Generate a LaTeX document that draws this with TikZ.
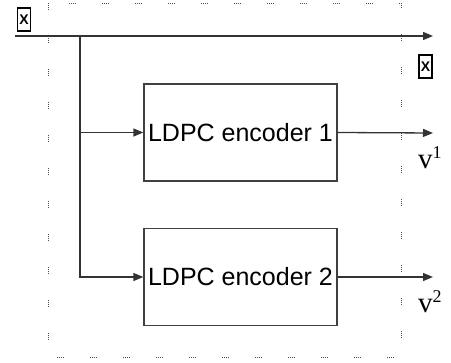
\documentclass[tikz,border=0pt]{standalone}
\usepackage{fontspec}
\newfontfamily\boxfont{Liberation Sans}
\newfontfamily\lblfont{Liberation Serif}
\usetikzlibrary{arrows.meta,positioning}

\tikzset{
  wire/.style={line width=1.3pt, draw=black!80},
  enc/.style={draw=black!75, line width=1.3pt, minimum width=193pt, minimum height=97pt,
    inner sep=0pt, font=\boxfont\fontsize{25}{30}\selectfont},
  frame/.style={draw=black!70, line width=0.9pt,
    dash pattern=on 1pt off 1pt on 1pt off 1pt on 1pt off 1pt on 1pt off 26pt},
  missing/.style={draw, line width=1.6pt, minimum width=13pt, minimum height=23pt,
    inner sep=0pt, font=\boxfont\bfseries\fontsize{14}{14}\selectfont},
  outlbl/.style={font=\lblfont\fontsize{29}{34}\selectfont, inner sep=0pt, anchor=base west}
}
\newcommand{\outsup}[1]{\raisebox{10pt}{\fontsize{18}{18}\selectfont #1}}

\begin{document}
\begin{tikzpicture}[x=1pt,y=-1pt,>={Triangle[length=10pt,width=8pt]}]
    \useasboundingbox (0,0) rectangle (451,363);
    % dotted frame
    \draw[frame] (48,3) rectangle (401,357);
    % placeholders
    \node[missing] (img1) at (24,19.5) {X};
    \node[missing] (img2) at (425.5,66.5) {X};
    % encoders
    \node[enc] (enc1) at (240.5,132.5) {LDPC encoder 1};
    \node[enc] (enc2) at (240.5,277) {LDPC encoder 2};
    % input line and split
    \coordinate (in) at (15,36);
    \coordinate (split) at (80,36);
    \coordinate (out0) at (433,36);
    \coordinate (out1) at (433,133);
    \coordinate (out2) at (433,277);
    \draw[wire,->] (in) -- (out0);
    \draw[wire,->] (split) |- (enc1.west);
    \draw[wire,->] (split) |- (enc2.west);
    \draw[wire,->] (enc1.east) -- (out1);
    \draw[wire,->] (enc2.east) -- (out2);
    % outputs
    \node[outlbl] (v1) at (418,169) {v\outsup{1}};
    \node[outlbl] (v2) at (418,313) {v\outsup{2}};
\end{tikzpicture}
\end{document}
